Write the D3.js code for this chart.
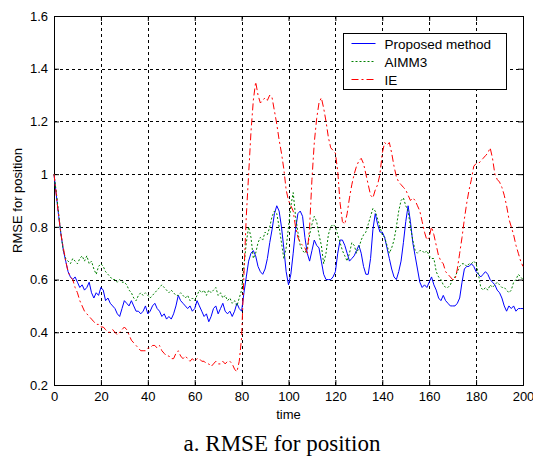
<!DOCTYPE html>
<html>
<head>
<meta charset="utf-8">
<script src="https://cdnjs.cloudflare.com/ajax/libs/d3/7.8.5/d3.min.js"></script>
<style>
	body { margin: 0; background: #fff; }
	svg { display: block; }
	.tick text { font-family: "Liberation Sans", Arial, sans-serif; font-size: 13px; fill: #000; }
</style>
</head>
<body>
<script>
// time axis 0..200, one value per step
var xTicks = [0, 20, 40, 60, 80, 100, 120, 140, 160, 180, 200];
var yTicks = [0.2, 0.4, 0.6, 0.8, 1, 1.2, 1.4, 1.6];
var seriesNames = ['Proposed method', 'AIMM3', 'IE'];

var proposed = [
	1.00,
	0.92,0.84,0.77,0.71,0.67,0.63,0.61,0.60,0.61,0.59,
	0.57,0.58,0.56,0.57,0.59,0.55,0.53,0.55,0.54,0.57,
	0.56,0.52,0.53,0.51,0.50,0.49,0.47,0.46,0.49,0.52,
	0.51,0.50,0.52,0.50,0.48,0.48,0.47,0.48,0.50,0.47,
	0.48,0.50,0.51,0.49,0.48,0.46,0.47,0.45,0.46,0.45,
	0.47,0.50,0.54,0.52,0.51,0.50,0.49,0.50,0.48,0.49,
	0.52,0.50,0.48,0.46,0.47,0.44,0.46,0.49,0.50,0.47,
	0.49,0.51,0.48,0.47,0.48,0.46,0.48,0.51,0.49,0.48,
	0.55,0.61,0.67,0.70,0.71,0.69,0.65,0.63,0.62,0.64,
	0.68,0.74,0.79,0.85,0.88,0.86,0.80,0.72,0.63,0.58,
	0.62,0.70,0.79,0.85,0.86,0.84,0.76,0.70,0.67,0.71,
	0.75,0.73,0.72,0.67,0.62,0.60,0.60,0.60,0.61,0.63,
	0.70,0.75,0.75,0.73,0.70,0.67,0.68,0.69,0.71,0.73,
	0.70,0.65,0.62,0.62,0.68,0.79,0.85,0.81,0.78,0.78,
	0.76,0.72,0.68,0.64,0.61,0.60,0.63,0.67,0.74,0.82,
	0.88,0.82,0.74,0.69,0.64,0.59,0.57,0.58,0.57,0.59,
	0.61,0.58,0.56,0.53,0.52,0.54,0.52,0.51,0.50,0.50,
	0.50,0.51,0.53,0.59,0.64,0.65,0.65,0.66,0.65,0.63,
	0.62,0.61,0.62,0.63,0.62,0.60,0.59,0.58,0.56,0.55,
	0.53,0.50,0.48,0.50,0.49,0.50,0.48,0.49,0.49,0.49
];

var aimm3 = [
	1.00,
	0.93,0.85,0.77,0.71,0.68,0.67,0.66,0.68,0.67,0.66,
	0.68,0.69,0.67,0.69,0.66,0.67,0.64,0.62,0.65,0.66,
	0.65,0.63,0.62,0.61,0.60,0.60,0.59,0.60,0.59,0.59,
	0.58,0.56,0.55,0.53,0.52,0.54,0.55,0.54,0.55,0.54,
	0.53,0.54,0.55,0.56,0.57,0.58,0.57,0.56,0.55,0.56,
	0.55,0.54,0.54,0.55,0.54,0.53,0.54,0.52,0.53,0.52,
	0.54,0.56,0.55,0.56,0.54,0.56,0.55,0.56,0.57,0.54,
	0.55,0.53,0.54,0.52,0.53,0.51,0.52,0.50,0.53,0.56,
	0.65,0.74,0.80,0.76,0.68,0.70,0.74,0.76,0.75,0.78,
	0.77,0.80,0.84,0.86,0.85,0.80,0.74,0.68,0.72,0.80,
	0.88,0.93,0.84,0.78,0.73,0.71,0.70,0.72,0.77,0.81,
	0.84,0.82,0.77,0.73,0.66,0.70,0.77,0.80,0.81,0.80,
	0.77,0.74,0.71,0.69,0.67,0.70,0.74,0.73,0.70,0.72,
	0.75,0.77,0.78,0.81,0.84,0.87,0.86,0.83,0.80,0.77,
	0.76,0.73,0.70,0.72,0.75,0.80,0.86,0.90,0.91,0.88,
	0.86,0.80,0.75,0.71,0.70,0.71,0.71,0.70,0.71,0.69,
	0.68,0.68,0.63,0.61,0.60,0.58,0.57,0.57,0.58,0.60,
	0.61,0.63,0.65,0.66,0.66,0.65,0.66,0.66,0.67,0.66,
	0.62,0.57,0.56,0.57,0.56,0.58,0.57,0.58,0.59,0.58,
	0.57,0.57,0.56,0.55,0.56,0.59,0.60,0.62,0.61,0.60
];

var ie = [
	1.00,
	0.92,0.84,0.77,0.72,0.67,0.63,0.61,0.60,0.57,0.55,
	0.52,0.50,0.48,0.47,0.46,0.45,0.44,0.43,0.43,0.42,
	0.42,0.41,0.40,0.40,0.41,0.40,0.39,0.40,0.41,0.42,
	0.41,0.39,0.37,0.36,0.35,0.34,0.33,0.33,0.33,0.34,
	0.34,0.35,0.35,0.34,0.35,0.33,0.32,0.31,0.31,0.30,
	0.30,0.32,0.33,0.31,0.30,0.31,0.30,0.29,0.30,0.29,
	0.30,0.30,0.29,0.29,0.28,0.28,0.27,0.28,0.29,0.28,
	0.28,0.29,0.28,0.29,0.29,0.28,0.26,0.25,0.29,0.38,
	0.62,0.84,1.00,1.16,1.28,1.35,1.30,1.27,1.28,1.29,
	1.28,1.30,1.29,1.24,1.19,1.13,1.08,1.02,0.94,0.90,
	0.88,0.86,0.80,0.76,0.74,0.73,0.72,0.70,0.80,0.98,
	1.12,1.21,1.27,1.29,1.25,1.20,1.14,1.10,1.09,1.08,
	1.01,0.89,0.82,0.81,0.85,0.91,0.96,1.00,1.03,1.05,
	1.06,1.04,1.00,0.96,0.92,0.91,0.94,0.96,1.00,1.08,
	1.12,1.11,1.12,1.08,1.03,0.99,0.97,0.96,0.95,0.94,
	0.92,0.90,0.91,0.90,0.88,0.86,0.82,0.78,0.75,0.76,
	0.80,0.77,0.73,0.69,0.67,0.66,0.63,0.62,0.61,0.60,
	0.60,0.64,0.70,0.76,0.83,0.89,0.94,0.98,1.03,1.04,
	1.04,1.05,1.06,1.07,1.08,1.10,1.06,1.00,0.98,0.97,
	0.95,0.92,0.88,0.83,0.80,0.77,0.73,0.70,0.67,0.65
];

var W = 533, H = 464;
// plot box (window.top is reserved, so prefix these)
var pLeft = 54, pRight = 523, pTop = 16, pBottom = 385;

var svg = d3.select('body').append('svg')
	.attr('width', W)
	.attr('height', H);

var x = d3.scaleLinear().domain([0, 200]).range([pLeft, pRight]);
var y = d3.scaleLinear().domain([0.2, 1.6]).range([pBottom, pTop]);

// grid
var grid = svg.append('g').attr('class', 'grid');
grid.selectAll('line.gx')
	.data(xTicks.slice(1, -1))
	.enter().append('line')
	.attr('x1', function(d){ return Math.round(x(d)) + 0.5; })
	.attr('x2', function(d){ return Math.round(x(d)) + 0.5; })
	.attr('y1', pTop).attr('y2', pBottom)
	.attr('stroke', '#000').attr('stroke-dasharray', '3,3');
grid.selectAll('line.gy')
	.data(yTicks.slice(1, -1))
	.enter().append('line')
	.attr('y1', function(d){ return Math.round(y(d)) + 0.5; })
	.attr('y2', function(d){ return Math.round(y(d)) + 0.5; })
	.attr('x1', pLeft).attr('x2', pRight)
	.attr('stroke', '#000').attr('stroke-dasharray', '3,3');

// axes (matlab style: ticks inward)
var xAxis = d3.axisBottom(x).tickValues(xTicks).tickSize(-5).tickPadding(7).tickFormat(d3.format('d'));
var yAxis = d3.axisLeft(y).tickValues(yTicks).tickSize(-5).tickPadding(6).tickFormat(function(d){ return d3.format('')(d); });

svg.append('g').attr('transform', 'translate(0,' + pBottom + ')').call(xAxis);
svg.append('g').attr('transform', 'translate(' + pLeft + ',0)').call(yAxis);
svg.append('g').attr('transform', 'translate(0,' + pTop + ')')
	.call(d3.axisTop(x).tickValues(xTicks).tickSize(-5).tickFormat(''));
svg.append('g').attr('transform', 'translate(' + pRight + ',0)')
	.call(d3.axisRight(y).tickValues(yTicks).tickSize(-5).tickFormat(''));

svg.selectAll('.domain').attr('stroke', '#000');

// lines
var line = d3.line()
	.x(function(d, i){ return x(i); })
	.y(function(d){ return y(d); });

var styles = [
	{data: proposed, color: '#0000ff', dash: null},
	{data: aimm3, color: '#008000', dash: '2,2'},
	{data: ie, color: '#ff0000', dash: '7,3,2,3'}
];

var plot = svg.append('g');
styles.forEach(function(s){
	plot.append('path')
		.datum(s.data)
		.attr('d', line)
		.attr('fill', 'none')
		.attr('stroke', s.color)
		.attr('stroke-width', 1)
		.attr('stroke-dasharray', s.dash);
});

// legend
var legend = svg.append('g').attr('transform', 'translate(343.5,33.5)');
legend.append('rect')
	.attr('width', 163).attr('height', 56)
	.attr('fill', '#fff').attr('stroke', '#000');
styles.forEach(function(s, i){
	var ly = 10 + i * 18;
	legend.append('line')
		.attr('x1', 8).attr('x2', 32)
		.attr('y1', ly).attr('y2', ly)
		.attr('stroke', s.color)
		.attr('stroke-dasharray', s.dash);
	legend.append('text')
		.attr('x', 41).attr('y', ly + 5)
		.attr('font-family', '"Liberation Sans", Arial, sans-serif')
		.attr('font-size', 13.5)
		.text(seriesNames[i]);
});

// labels
svg.append('text')
	.attr('x', (pLeft + pRight) / 2).attr('y', 419)
	.attr('text-anchor', 'middle')
	.attr('font-family', '"Liberation Sans", Arial, sans-serif')
	.attr('font-size', 13)
	.text('time');

svg.append('text')
	.attr('transform', 'translate(22,' + ((pTop + pBottom) / 2) + ') rotate(-90)')
	.attr('text-anchor', 'middle')
	.attr('font-family', '"Liberation Sans", Arial, sans-serif')
	.attr('font-size', 13)
	.text('RMSE for position');

svg.append('text')
	.attr('x', 282).attr('y', 451)
	.attr('text-anchor', 'middle')
	.attr('font-family', '"Liberation Serif", "Times New Roman", serif')
	.attr('font-size', 23)
	.text('a. RMSE for position');
</script>
</body>
</html>
